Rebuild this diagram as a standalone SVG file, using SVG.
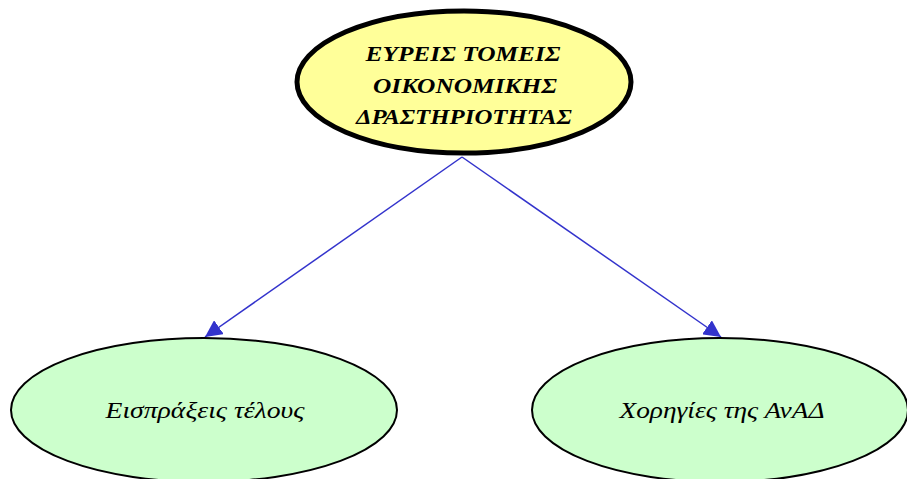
<svg xmlns="http://www.w3.org/2000/svg" width="907" height="479" viewBox="0 0 907 479">
<style>
.top{fill:#ffff99;stroke:#000;stroke-width:5}
.leaf{fill:#ccffcc;stroke:#000;stroke-width:2}
.t1{font-family:"Liberation Serif","DejaVu Serif",serif;font-style:italic;font-weight:bold;font-size:22px;fill:#000}
.t2{font-family:"Liberation Serif","DejaVu Serif",serif;font-style:italic;font-size:24px;fill:#000}
.edge{stroke:#3333cc;stroke-width:1.5;fill:none}
</style>
<defs>
<marker id="ah" viewBox="0 0 10 10" refX="10" refY="5" markerWidth="17" markerHeight="17" markerUnits="userSpaceOnUse" orient="auto">
<path d="M0,0 L10,5 L0,10 z" fill="#3333cc"/>
</marker>
</defs>
<rect width="907" height="479" fill="#fff"/>
<g id="connectors">
<line class="edge" x1="462" y1="157" x2="205" y2="337" marker-end="url(#ah)"/>
<line class="edge" x1="462" y1="157" x2="721" y2="337" marker-end="url(#ah)"/>
</g>
<g id="root">
<ellipse class="top" cx="464" cy="82" rx="167" ry="71"/>
<text class="t1" x="463" y="61" text-anchor="middle" textLength="195" lengthAdjust="spacingAndGlyphs">ΕΥΡΕΙΣ ΤΟΜΕΙΣ</text>
<text class="t1" x="465" y="93" text-anchor="middle" textLength="184" lengthAdjust="spacingAndGlyphs">ΟΙΚΟΝΟΜΙΚΗΣ</text>
<text class="t1" x="464" y="124" text-anchor="middle" textLength="216" lengthAdjust="spacingAndGlyphs">ΔΡΑΣΤΗΡΙΟΤΗΤΑΣ</text>
</g>
<g id="leaf1">
<ellipse class="leaf" cx="204" cy="410" rx="193" ry="72"/>
<text class="t2" x="205" y="418" text-anchor="middle" textLength="199" lengthAdjust="spacingAndGlyphs">Εισπράξεις τέλους</text>
</g>
<g id="leaf2">
<ellipse class="leaf" cx="720" cy="410" rx="188" ry="72"/>
<text class="t2" x="722" y="418" text-anchor="middle" textLength="205" lengthAdjust="spacingAndGlyphs">Χορηγίες της ΑνΑΔ</text>
</g>
</svg>
